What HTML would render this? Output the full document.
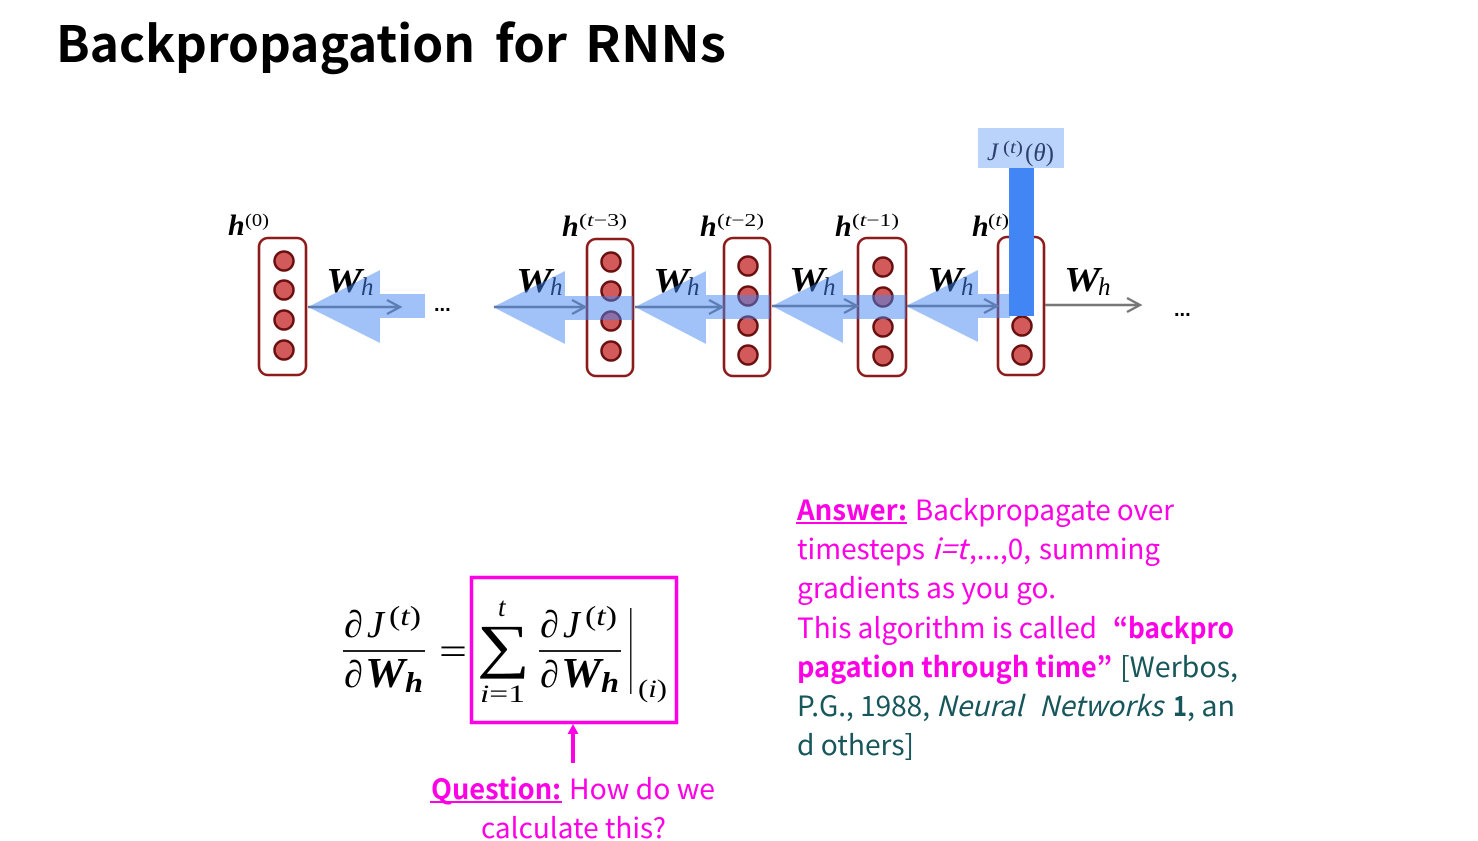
<!DOCTYPE html>
<html><head><meta charset="utf-8"><title>Backpropagation for RNNs</title>
<style>
html,body{margin:0;padding:0;background:#fff}
svg{display:block}
.t{font-family:"Noto Sans CJK KR","Liberation Sans",sans-serif;font-size:28px}
.m{fill:#ff00e6}.g{fill:#17565a}
.b{font-weight:700}.i{font-style:italic}
.W{font-family:"Liberation Serif",serif;font-weight:700;font-style:italic;font-size:35px}
.h{font-family:"Liberation Serif",serif;font-style:italic;font-size:25px}
.H{font-family:"Liberation Serif",serif;font-style:italic;font-weight:700;font-size:30px}
.sup{font-family:"Liberation Serif",serif;font-size:18px}
.box{fill:#fff;stroke:#8e1b1b;stroke-width:2.6}
.c{fill:#d25a5a;stroke:#6a0f0f;stroke-width:2.5}
.a{fill:#4285f4;opacity:.5}
.l{stroke:#777;stroke-width:2.4;fill:none}
.fi{font-family:"Liberation Serif",serif;font-size:38px;font-style:italic}
.fb{font-family:"Liberation Serif",serif;font-size:42px;font-style:italic;font-weight:700}
.fs{font-family:"Liberation Serif",serif;font-size:27px}
.fh{font-family:"Liberation Serif",serif;font-size:29px;font-style:italic;font-weight:700}
</style></head><body>
<svg width="1478" height="841" viewBox="0 0 1478 841" xmlns="http://www.w3.org/2000/svg">
<g font-family="Noto Sans CJK KR,Liberation Sans,sans-serif" font-weight="700" font-size="50">
<text x="56" y="62" textLength="419" lengthAdjust="spacingAndGlyphs">Backpropagation</text>
<text x="495" y="62" textLength="72" lengthAdjust="spacingAndGlyphs">for</text>
<text x="585" y="62" textLength="141" lengthAdjust="spacingAndGlyphs">RNNs</text>
</g>

<!-- boxes -->
<rect class="box" x="259" y="238" width="47" height="137" rx="9"/>
<rect class="box" x="587" y="239" width="46" height="137" rx="9"/>
<rect class="box" x="724" y="238" width="46" height="138" rx="9"/>
<rect class="box" x="858" y="238" width="48" height="138" rx="9"/>
<rect class="box" x="998" y="237" width="46" height="138" rx="9"/>
<!-- circles -->
<g class="c">
<circle cx="284" cy="261" r="9.5"/><circle cx="284" cy="290" r="9.5"/><circle cx="284" cy="320" r="9.5"/><circle cx="284" cy="350" r="9.5"/>
<circle cx="611" cy="262" r="9.5"/><circle cx="611" cy="291" r="9.5"/><circle cx="611" cy="321" r="9.5"/><circle cx="611" cy="351" r="9.5"/>
<circle cx="748" cy="266" r="9.5"/><circle cx="748" cy="296" r="9.5"/><circle cx="748" cy="326" r="9.5"/><circle cx="748" cy="355" r="9.5"/>
<circle cx="883" cy="267" r="9.5"/><circle cx="883" cy="297" r="9.5"/><circle cx="883" cy="327" r="9.5"/><circle cx="883" cy="356" r="9.5"/>
<circle cx="1022" cy="326" r="9.5"/><circle cx="1022" cy="355" r="9.5"/>
</g>

<!-- grey arrows -->
<g class="l">
<path d="M308 307H399M387 300l13 7-13 7"/>
<path d="M494 307H584M572 300l13 7-13 7"/>
<path d="M635 307H721M709 300l13 7-13 7"/>
<path d="M772 306H856M844 299l13 7-13 7"/>
<path d="M907 306H996M984 299l13 7-13 7"/>
<path d="M1045 305H1139M1127 298l13 7-13 7"/>
</g>

<!-- labels -->
<g>
<text class="W" x="326" y="292" textLength="36" lengthAdjust="spacingAndGlyphs">W</text><text class="h" x="361" y="295">h</text>
<text class="W" x="516" y="292" textLength="36" lengthAdjust="spacingAndGlyphs">W</text><text class="h" x="550" y="295">h</text>
<text class="W" x="653" y="292" textLength="36" lengthAdjust="spacingAndGlyphs">W</text><text class="h" x="687" y="295">h</text>
<text class="W" x="789" y="291" textLength="36" lengthAdjust="spacingAndGlyphs">W</text><text class="h" x="823" y="295">h</text>
<text class="W" x="927" y="291" textLength="36" lengthAdjust="spacingAndGlyphs">W</text><text class="h" x="961" y="295">h</text>
<text class="W" x="1064" y="291" textLength="36" lengthAdjust="spacingAndGlyphs">W</text><text class="h" x="1098" y="295">h</text>
</g>

<!-- blue arrows -->
<path class="a" d="M308 307L380 270V294H425V318H380V343Z"/>
<path class="a" d="M493 307L565 271V296H633V320H565V344Z"/>
<path class="a" d="M635 307L706 271V295H770V319H706V344Z"/>
<path class="a" d="M772 306L843 270V295H906V319H843V343Z"/>
<path class="a" d="M906 306L978 270V294H1010V318H978V342Z"/>

<!-- ellipses -->
<text x="434" y="311" font-family="Liberation Sans,sans-serif" font-weight="700" font-size="20">...</text>
<text x="1174" y="316" font-family="Liberation Sans,sans-serif" font-weight="700" font-size="20">...</text>

<!-- h labels -->
<text class="H" x="228" y="235">h</text><text class="sup" x="245" y="226" textLength="24" lengthAdjust="spacingAndGlyphs">(0)</text>
<text class="H" x="562" y="236">h</text><text class="sup" x="579" y="226" textLength="48" lengthAdjust="spacingAndGlyphs">(<tspan font-style="italic">t</tspan>−3)</text>
<text class="H" x="700" y="236">h</text><text class="sup" x="717" y="226" textLength="47" lengthAdjust="spacingAndGlyphs">(<tspan font-style="italic">t</tspan>−2)</text>
<text class="H" x="835" y="236">h</text><text class="sup" x="852" y="226" textLength="47" lengthAdjust="spacingAndGlyphs">(<tspan font-style="italic">t</tspan>−1)</text>
<text class="H" x="972" y="236">h</text><text class="sup" x="988" y="226" textLength="21" lengthAdjust="spacingAndGlyphs">(<tspan font-style="italic">t</tspan>)</text>

<!-- J box & bar -->
<rect x="978" y="128" width="86" height="40" fill="#b9d3fb"/>
<rect x="1009" y="168" width="25" height="148" fill="#4285f4"/>
<text x="987" y="160" font-family="Liberation Serif,serif" font-style="italic" font-size="25" fill="#2f4070">J</text>
<text x="1003" y="153" font-family="Liberation Serif,serif" font-size="18" fill="#2f4070" textLength="20" lengthAdjust="spacingAndGlyphs">(<tspan font-style="italic">t</tspan>)</text>
<text x="1025" y="161" font-family="Liberation Serif,serif" font-size="25" fill="#2f4070" textLength="29" lengthAdjust="spacingAndGlyphs">(<tspan font-style="italic">θ</tspan>)</text>

<!-- formula left -->
<text class="fi" x="344" y="637">∂</text><text class="fi" x="367" y="637">J</text>
<text class="fs" x="389" y="625" textLength="32" lengthAdjust="spacingAndGlyphs">(<tspan font-style="italic">t</tspan>)</text>
<rect x="343" y="650" width="82" height="2" fill="#222"/>
<text class="fi" x="344" y="687">∂</text><text class="fb" x="365" y="687" textLength="40" lengthAdjust="spacingAndGlyphs">W</text><text class="fh" x="405" y="692" textLength="18" lengthAdjust="spacingAndGlyphs">h</text>
<text x="439" y="664" font-family="Liberation Serif,serif" font-size="38" textLength="28" lengthAdjust="spacingAndGlyphs">=</text>

<!-- pink box -->
<rect x="471.500" y="577.500" width="205" height="145" fill="none" stroke="#ff00e6" stroke-width="3.500"/>
<text x="498" y="616" font-family="Liberation Serif,serif" font-style="italic" font-size="27">t</text>
<text x="477" y="666" font-family="Liberation Serif,serif" font-size="60" textLength="53" lengthAdjust="spacingAndGlyphs">∑</text>
<text x="480" y="702" font-family="Liberation Serif,serif" font-size="25" textLength="45" lengthAdjust="spacingAndGlyphs"><tspan font-style="italic">i</tspan>=1</text>
<text class="fi" x="540" y="637">∂</text><text class="fi" x="563" y="637">J</text>
<text class="fs" x="585" y="625" textLength="32" lengthAdjust="spacingAndGlyphs">(<tspan font-style="italic">t</tspan>)</text>
<rect x="539" y="650" width="82" height="2" fill="#222"/>
<text class="fi" x="540" y="687">∂</text><text class="fb" x="561" y="687" textLength="40" lengthAdjust="spacingAndGlyphs">W</text><text class="fh" x="601" y="692" textLength="18" lengthAdjust="spacingAndGlyphs">h</text>
<rect x="630" y="608" width="1.500" height="86" fill="#222"/>
<text x="638" y="697" font-family="Liberation Serif,serif" font-size="25" textLength="29" lengthAdjust="spacingAndGlyphs">(<tspan font-style="italic">i</tspan>)</text>

<!-- pink arrow -->
<rect x="571" y="732" width="4" height="31" fill="#ff00e6"/>
<path d="M573 724l-5.500 10h11z" fill="#ff00e6"/>

<!-- question -->
<g class="t m">
<text class="b" x="431" y="799" textLength="130" lengthAdjust="spacingAndGlyphs">Question:</text>
<rect x="430" y="801" width="132" height="2" fill="#ff00e6"/>
<text x="569" y="799" textLength="146" lengthAdjust="spacingAndGlyphs">How do we</text>
<text x="481" y="838" textLength="185" lengthAdjust="spacingAndGlyphs">calculate this?</text>

<!-- answer -->
<text class="b" x="797" y="520" textLength="110" lengthAdjust="spacingAndGlyphs">Answer:</text>
<rect x="796" y="522" width="111" height="2" fill="#ff00e6"/>
<text x="915" y="520" textLength="259" lengthAdjust="spacingAndGlyphs">Backpropagate over</text>
<text x="797" y="559" textLength="128" lengthAdjust="spacingAndGlyphs">timesteps</text>
<text class="i" x="932" y="559" textLength="35" lengthAdjust="spacingAndGlyphs">i=t</text>
<text x="969" y="559" textLength="62" lengthAdjust="spacingAndGlyphs">,...,0,</text>
<text x="1039" y="559" textLength="121" lengthAdjust="spacingAndGlyphs">summing</text>
<text x="797" y="598" textLength="259" lengthAdjust="spacingAndGlyphs">gradients as you go.</text>
<text x="797" y="638" textLength="300" lengthAdjust="spacingAndGlyphs">This algorithm is called</text>
<text class="b" x="1113" y="638" textLength="121" lengthAdjust="spacingAndGlyphs">“backpro</text>
<text class="b" x="797" y="677" textLength="315" lengthAdjust="spacingAndGlyphs">pagation through time”</text>
</g>
<g class="t g">
<text x="1120" y="677" textLength="118" lengthAdjust="spacingAndGlyphs">[Werbos,</text>
<text x="797" y="716" textLength="133" lengthAdjust="spacingAndGlyphs">P.G., 1988,</text>
<text class="i" x="936" y="716" textLength="87" lengthAdjust="spacingAndGlyphs">Neural</text>
<text class="i" x="1039" y="716" textLength="124" lengthAdjust="spacingAndGlyphs">Networks</text>
<text class="b" x="1173" y="716" textLength="14" lengthAdjust="spacingAndGlyphs">1</text>
<text x="1187" y="716" textLength="48" lengthAdjust="spacingAndGlyphs">, an</text>
<text x="797" y="755" textLength="117" lengthAdjust="spacingAndGlyphs">d others]</text>
</g>
</svg>
</body></html>
